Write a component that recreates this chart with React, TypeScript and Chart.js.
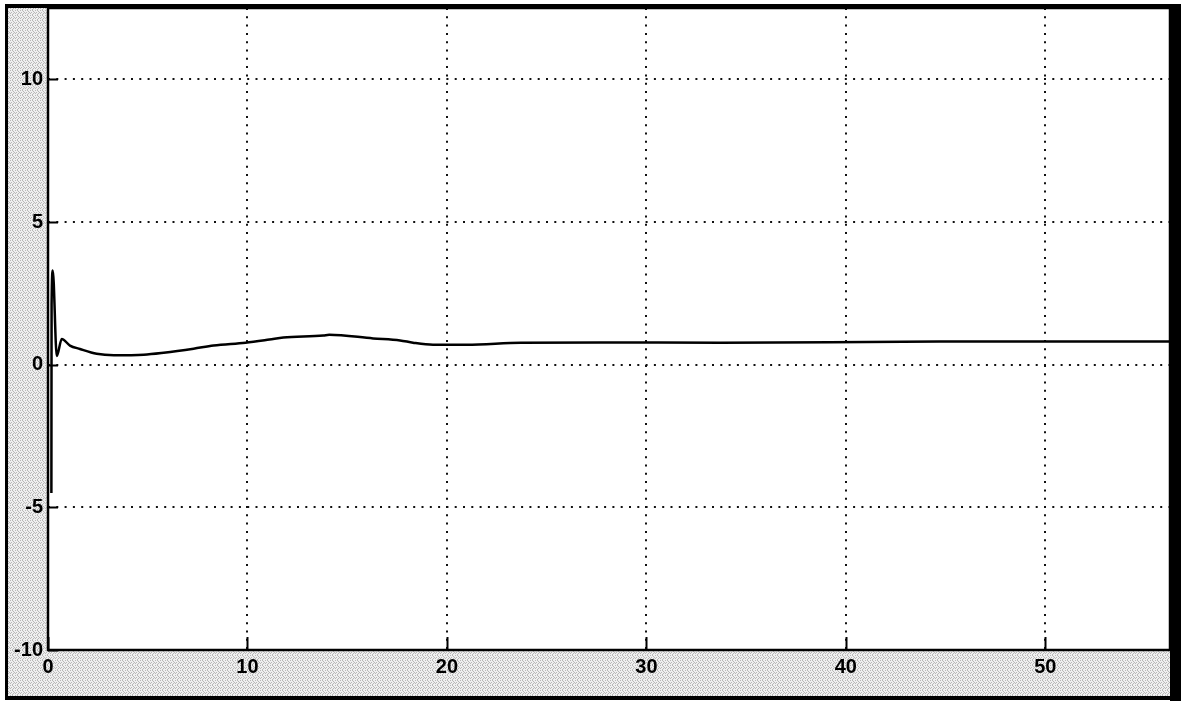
import React, { useEffect, useRef } from "react";
import { Chart, registerables } from "chart.js";

Chart.register(...registerables);

// time axis (s) and signal values
const timeValues = [
  0.17, 0.18, 0.24, 0.44, 0.69, 1.1, 1.6, 2.44, 3.3, 4.8, 5.8, 7.3, 8.3, 9.9,
  11.1, 11.8, 13.8, 14.1, 16.3, 17.65, 18.3, 19.3, 21, 23.7, 27.7, 33.7, 44.7, 56.25,
];
const signalValues = [
  -4.5, 2.1, 3.3, 0.3, 0.9, 0.67, 0.55, 0.38, 0.33, 0.35, 0.42, 0.56, 0.67, 0.77,
  0.88, 0.95, 1.02, 1.05, 0.92, 0.85, 0.77, 0.7, 0.7, 0.77, 0.78, 0.77, 0.81, 0.81,
];
const xTickValues = [0, 10, 20, 30, 40, 50];
const yTickValues = [-10, -5, 0, 5, 10];
const X_MIN = 0;
const X_MAX = 56.25;
const Y_MIN = -10;
const Y_MAX = 12.5;

const W = 1181;
const H = 701;

const scopePlugin = {
  id: "scopeFrame",
  beforeDraw(chart: any) {
    const { ctx, chartArea } = chart;
    const { left, top, right, bottom } = chartArea;
    ctx.save();
    ctx.fillStyle = "#ffffff";
    ctx.fillRect(0, 0, W, H);
    const pc = document.createElement("canvas");
    pc.width = 5;
    pc.height = 5;
    const p = pc.getContext("2d")!;
    p.fillStyle = "#f0f0f0";
    p.fillRect(0, 0, 5, 5);
    p.fillStyle = "#b8b8b8";
    const dots = [[0, 0], [2, 0], [3, 1], [1, 2], [4, 2], [0, 3], [2, 4], [3, 3]];
    dots.forEach(([a, b]) => p.fillRect(a, b, 1, 1));
    const pat = ctx.createPattern(pc, "repeat");
    ctx.fillStyle = pat || "#dcdcdc";
    ctx.fillRect(8, 8, 1162, 688);
    ctx.fillStyle = "#ffffff";
    ctx.fillRect(left, top, right - left, bottom - top);
    ctx.restore();
  },
  afterDraw(chart: any) {
    const { ctx, chartArea, scales } = chart;
    const { left, top, right, bottom } = chartArea;
    ctx.save();
    // solid tick marks inside the plot
    ctx.strokeStyle = "#000";
    ctx.lineWidth = 2;
    ctx.beginPath();
    yTickValues.forEach((v) => {
      const y = Math.round(scales.y.getPixelForValue(v)) + 0.5;
      ctx.moveTo(left, y);
      ctx.lineTo(left + 10, y);
    });
    xTickValues.forEach((v) => {
      const x = Math.round(scales.x.getPixelForValue(v)) + 0.5;
      ctx.moveTo(x, bottom);
      ctx.lineTo(x, bottom - 13);
    });
    ctx.stroke();
    // plot frame
    ctx.lineWidth = 2.5;
    ctx.strokeRect(left, top, right - left, bottom - top);
    // outer border
    ctx.fillStyle = "#000";
    ctx.fillRect(5, 4, 3, 694);
    ctx.fillRect(5, 4, W - 5, 4);
    ctx.fillRect(1170, 4, W - 1170, H - 4);
    ctx.fillRect(5, 696, W - 5, 4);
    ctx.restore();
  },
};

const zeroPad = (s: any) => {
  s.paddingTop = 0;
  s.paddingBottom = 0;
  s.paddingLeft = 0;
  s.paddingRight = 0;
};

export default function App() {
  const canvasRef = useRef<HTMLCanvasElement | null>(null);

  useEffect(() => {
    if (!canvasRef.current) return;
    const points = timeValues.map((t, i) => ({ x: t, y: signalValues[i] }));
    const tickFont = { family: "'Liberation Sans', Arial, sans-serif", size: 20, weight: "bold" as const };
    const chart = new Chart(canvasRef.current, {
      type: "line",
      data: {
        datasets: [
          {
            data: points,
            borderColor: "#000000",
            borderWidth: 2.5,
            pointRadius: 0,
            fill: false,
            cubicInterpolationMode: "monotone",
          },
        ],
      },
      options: {
        responsive: false,
        animation: false,
        events: [],
        layout: { padding: { left: 8, top: 8, right: 11, bottom: 5 } },
        plugins: { legend: { display: false }, tooltip: { enabled: false }, title: { display: false } },
        scales: {
          x: {
            type: "linear",
            min: X_MIN,
            max: X_MAX,
            afterFit: (s: any) => {
              s.height = 46;
              zeroPad(s);
            },
            afterBuildTicks: (s: any) => {
              s.ticks = xTickValues.map((v) => ({ value: v }));
            },
            ticks: { color: "#000", font: tickFont, padding: 5, maxRotation: 0, autoSkip: false },
            grid: { color: "#111", lineWidth: 2, drawTicks: false },
            border: { display: false, dash: [2, 6.3] },
          },
          y: {
            type: "linear",
            min: Y_MIN,
            max: Y_MAX,
            afterFit: (s: any) => {
              s.width = 40;
              zeroPad(s);
            },
            afterBuildTicks: (s: any) => {
              s.ticks = yTickValues.map((v) => ({ value: v }));
            },
            ticks: { color: "#000", font: tickFont, padding: 5, autoSkip: false },
            grid: { color: "#111", lineWidth: 2, drawTicks: false },
            border: { display: false, dash: [2, 6.3] },
          },
        },
      },
      plugins: [scopePlugin],
    } as any);
    return () => chart.destroy();
  }, []);

  return (
    <div style={{ position: "absolute", left: 0, top: 0, width: W, height: H }}>
      <canvas ref={canvasRef} width={W} height={H} style={{ display: "block", width: W, height: H }} />
    </div>
  );
}
